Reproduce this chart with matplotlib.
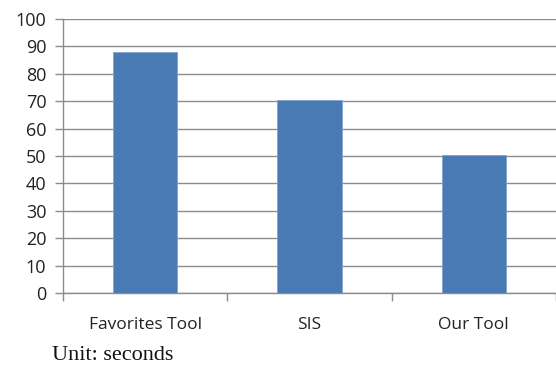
import matplotlib
matplotlib.use("Agg")
import matplotlib.pyplot as plt
from matplotlib.ticker import FixedLocator

categories = ["Favorites Tool", "SIS", "Our Tool"]
values = [88, 70.5, 50.5]
yticks = [0, 10, 20, 30, 40, 50, 60, 70, 80, 90, 100]

fig = plt.figure(figsize=(5.56, 3.74), dpi=100)
ax = fig.add_axes([0.1133, 0.2166, 0.8867, 0.7326])
x = list(range(len(categories)))
ax.bar(x, values, width=0.39, color="#4a7ab4", edgecolor="#7fa3cf", linewidth=0.6, zorder=3)
ax.set_xlim(-0.5, 2.5)
ax.set_ylim(0, 100)
ax.set_yticks(yticks)
ax.set_yticklabels([str(t) for t in yticks], fontsize=13, family="Open Sans", color="#222222")
ax.yaxis.grid(True, color="#8c8c8c", linewidth=1.0, zorder=0)
ax.xaxis.set_major_locator(FixedLocator(x))
ax.set_xticklabels(categories, fontsize=12.5, family="Open Sans", color="#222222")
ax.tick_params(axis="x", length=0, pad=17)
ax.xaxis.set_minor_locator(FixedLocator([-0.5, 0.5, 1.5, 2.5]))
ax.tick_params(axis="x", which="minor", length=6, color="#8c8c8c", width=1)
ax.tick_params(axis="y", length=6, color="#8c8c8c", width=1, pad=6)
for s in ["top", "right"]:
    ax.spines[s].set_visible(False)
for s in ["left", "bottom"]:
    ax.spines[s].set_color("#8c8c8c")
    ax.spines[s].set_linewidth(1)
fig.text(52/556, 1 - 355/374, "Unit: seconds", fontsize=16, family="Liberation Serif", va="center", ha="left", color="#111111")
fig.savefig("out.png", dpi=100)
